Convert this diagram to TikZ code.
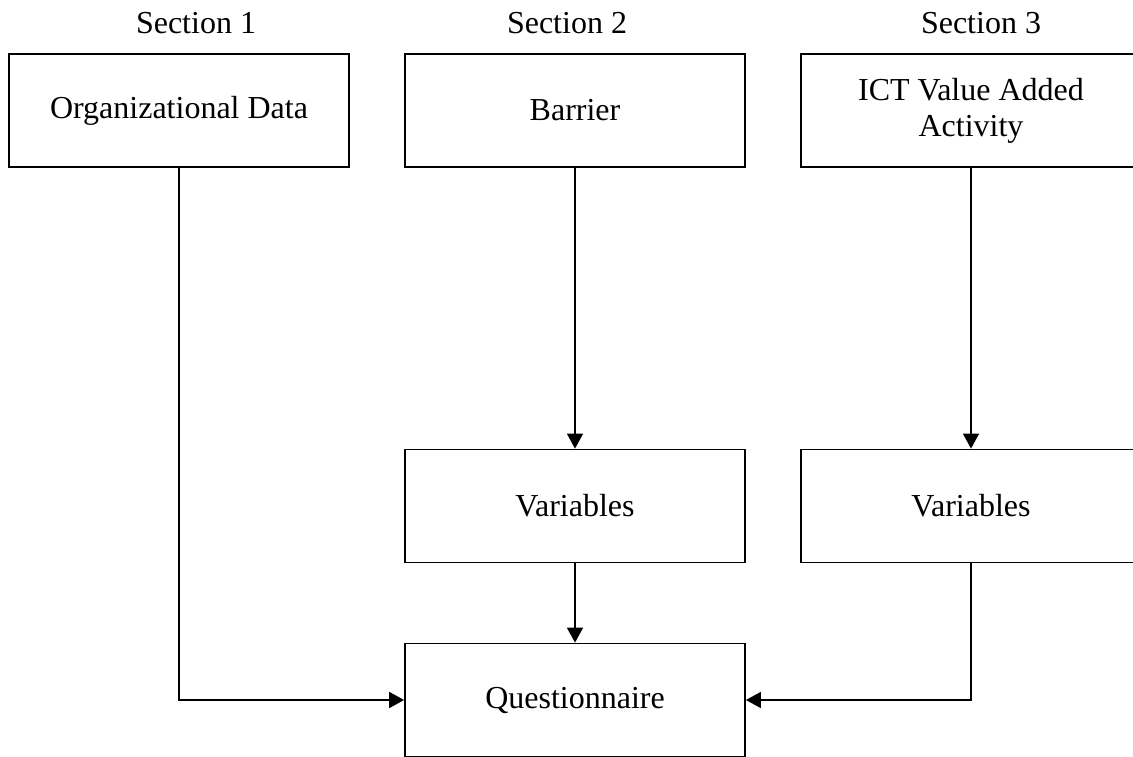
\documentclass[tikz,border=0pt]{standalone}
\usepackage{fontspec}
\setmainfont{Liberation Serif}
\usetikzlibrary{arrows.meta}
\begin{document}
\begin{tikzpicture}[
		x=1pt, y=-1pt,
		box/.style={draw, line width=1.8pt, minimum width=340pt, minimum height=113pt, inner sep=0pt, align=center, font=\fontsize{32}{36}\selectfont},
		heading/.style={anchor=base, inner sep=0pt, font=\fontsize{32}{36}\selectfont},
		link/.style={draw, line width=1.8pt, -{Triangle[length=15pt, width=16pt]}},
		]
		\useasboundingbox (0,0) rectangle (1133,757);
		% headings
		\node[heading] (sec1) at (196,34) {Section 1};
		\node[heading] (sec2) at (567,34) {Section 2};
		\node[heading] (sec3) at (981,34) {Section 3};
		% boxes
		\node[box] (org) at (179,110.5) {Organizational Data};
		\node[box] (barrier) at (575,110.5) {Barrier};
		\node[box] (ict) at (971,110.5) {ICT Value Added\\Activity};
		\node[box] (varb) at (575,506) {Variables};
		\node[box] (vari) at (971,506) {Variables};
		\node[box] (quest) at (575,700) {Questionnaire};
		% connectors
		\draw[link] (barrier) -- (varb);
		\draw[link] (ict) -- (vari);
		\draw[link] (varb) -- (quest);
		\draw[link] (org.south) |- (quest.west);
		\draw[link] (vari.south) |- (quest.east);
	\end{tikzpicture}
\end{document}
